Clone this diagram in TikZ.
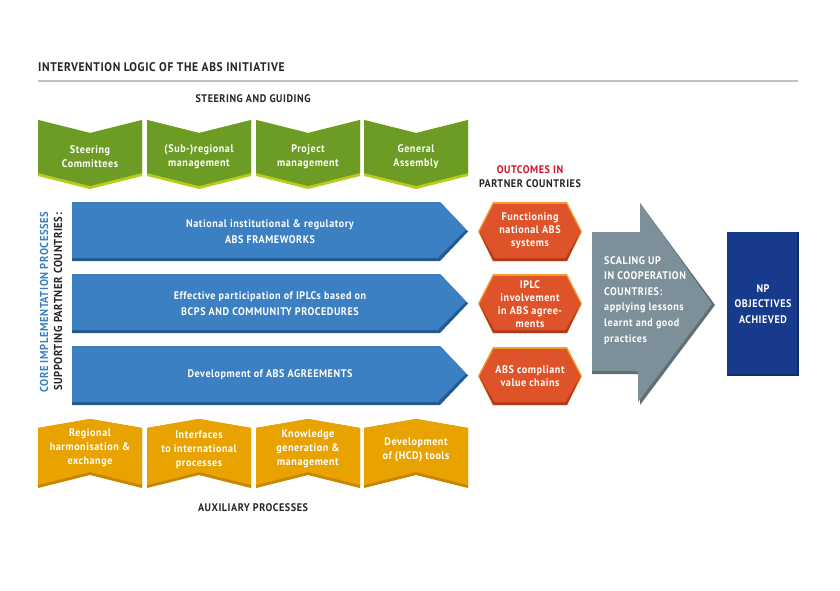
\documentclass[tikz,border=0pt]{standalone}
\usepackage{fontspec}
\setmainfont{PT Sans}[FakeStretch=0.92,LetterSpace=5]
\definecolor{absgreen}{HTML}{6C9C24}
\definecolor{absgreenedge}{HTML}{B9CC1C}
\definecolor{absyellow}{HTML}{E9A300}
\definecolor{absyellowedge}{HTML}{C68600}
\definecolor{absblue}{HTML}{3A80C2}
\definecolor{absblueedge}{HTML}{24598E}
\definecolor{absred}{HTML}{DF532A}
\definecolor{absrededge}{HTML}{B23C17}
\definecolor{absredtop}{HTML}{F29B2E}
\definecolor{absgray}{HTML}{7D8F99}
\definecolor{absgrayedge}{HTML}{5E6E77}
\definecolor{absnavy}{HTML}{183A8D}
\definecolor{absnavyedge}{HTML}{102A6A}
\definecolor{abstitle}{HTML}{D0122C}

\begin{document}
\begin{tikzpicture}[x=1pt,y=-1pt,
    boxtext/.style={text=white,align=center,inner sep=0pt,
      font=\bfseries\fontsize{11}{14}\selectfont},
    headtext/.style={text=black!85,inner sep=0pt,
      font=\bfseries\fontsize{11}{14}\selectfont}]
    \useasboundingbox (0,0) rectangle (840,591);
    \fill[white] (0,0) rectangle (840,591);
    % title
    \node[headtext,anchor=west,font=\bfseries\fontsize{12.5}{14}\selectfont] (title) at (38,67) {INTERVENTION LOGIC OF THE ABS INITIATIVE};
    \draw[black!25,line width=1.2pt] (38,81) -- (798,81);
    \node[headtext] (steering) at (253,99) {STEERING AND GUIDING};
    % steering and guiding
    \fill[absgreenedge] (38,120) -- (90,133) -- (142,120) -- (142,176) -- (90,189) -- (38,176) -- cycle;
    \fill[absgreen] (38,120) -- (90,133) -- (142,120) -- (142,173) -- (90,186) -- (38,173) -- cycle;
    \fill[absgreenedge] (147,120) -- (199,133) -- (251,120) -- (251,176) -- (199,189) -- (147,176) -- cycle;
    \fill[absgreen] (147,120) -- (199,133) -- (251,120) -- (251,173) -- (199,186) -- (147,173) -- cycle;
    \fill[absgreenedge] (256,120) -- (308,133) -- (360,120) -- (360,176) -- (308,189) -- (256,176) -- cycle;
    \fill[absgreen] (256,120) -- (308,133) -- (360,120) -- (360,173) -- (308,186) -- (256,173) -- cycle;
    \fill[absgreenedge] (364,120) -- (416,133) -- (468,120) -- (468,176) -- (416,189) -- (364,176) -- cycle;
    \fill[absgreen] (364,120) -- (416,133) -- (468,120) -- (468,173) -- (416,186) -- (364,173) -- cycle;
    \node[boxtext] (committees) at (90,157) {Steering\\Committees};
    \node[boxtext] (regional) at (199,157) {(Sub-)regional\\management};
    \node[boxtext] (project) at (308,157) {Project\\management};
    \node[boxtext] (assembly) at (416,157) {General\\Assembly};
    % outcomes heading
    \node[headtext,text=abstitle] (outcomes) at (530,170) {OUTCOMES IN};
    \node[headtext] (partner) at (530,184) {PARTNER COUNTRIES};
    % side labels
    \node[headtext,text=absblue,rotate=90,font=\bfseries\fontsize{11.5}{14}\selectfont] (core) at (44,302) {CORE IMPLEMENTATION PROCESSES};
    \node[headtext,rotate=90,font=\bfseries\fontsize{11.5}{14}\selectfont] (supporting) at (58,302) {SUPPORTING PARTNER COUNTRIES:};
    % core implementation arrows
    \fill[absblueedge] (72,202) -- (440,202) -- (468,231.5) -- (440,261) -- (72,261) -- cycle;
    \fill[absblue] (72,202) -- (440,202) -- (466,229.5) -- (438,258) -- (72,258) -- cycle;
    \fill[absblueedge] (72,274) -- (440,274) -- (468,303.5) -- (440,333) -- (72,333) -- cycle;
    \fill[absblue] (72,274) -- (440,274) -- (466,301.5) -- (438,330) -- (72,330) -- cycle;
    \fill[absblueedge] (72,346) -- (440,346) -- (468,375.5) -- (440,405) -- (72,405) -- cycle;
    \fill[absblue] (72,346) -- (440,346) -- (466,373.5) -- (438,402) -- (72,402) -- cycle;
    \node[boxtext,font=\bfseries\fontsize{11}{16}\selectfont] (frameworks) at (270,232) {National institutional \& regulatory\\ABS FRAMEWORKS};
    \node[boxtext,font=\bfseries\fontsize{11}{16}\selectfont] (participation) at (270,304) {Effective participation of IPLCs based on\\BCPS AND COMMUNITY PROCEDURES};
    \node[boxtext] (agreements) at (270,375) {Development of ABS AGREEMENTS};
    % outcomes
    \fill[absredtop] (478,231.5) -- (493,202) -- (567,202) -- (582,231.5) -- (567,261) -- (493,261) -- cycle;
    \fill[absrededge] (479.5,232.5) -- (494,204) -- (566,204) -- (580.5,232.5) -- (567,261) -- (493,261) -- cycle;
    \fill[absred] (479.5,231.5) -- (494,204) -- (566,204) -- (580.5,231.5) -- (565.5,258) -- (494.5,258) -- cycle;
    \fill[absredtop] (478,303.5) -- (493,274) -- (567,274) -- (582,303.5) -- (567,333) -- (493,333) -- cycle;
    \fill[absrededge] (479.5,304.5) -- (494,276) -- (566,276) -- (580.5,304.5) -- (567,333) -- (493,333) -- cycle;
    \fill[absred] (479.5,303.5) -- (494,276) -- (566,276) -- (580.5,303.5) -- (565.5,330) -- (494.5,330) -- cycle;
    \fill[absredtop] (478,376) -- (493,347) -- (567,347) -- (582,376) -- (567,405) -- (493,405) -- cycle;
    \fill[absrededge] (479.5,377) -- (494,349) -- (566,349) -- (580.5,377) -- (567,405) -- (493,405) -- cycle;
    \fill[absred] (479.5,376) -- (494,349) -- (566,349) -- (580.5,376) -- (565.5,402) -- (494.5,402) -- cycle;
    \node[boxtext,font=\bfseries\fontsize{11}{13}\selectfont] (systems) at (530,231) {Functioning\\national ABS\\systems};
    \node[boxtext,font=\bfseries\fontsize{11}{13}\selectfont] (involvement) at (530,304) {IPLC\\involvement\\in ABS agree-\\ments};
    \node[boxtext,font=\bfseries\fontsize{11}{13}\selectfont] (chains) at (530,376) {ABS compliant\\value chains};
    % scaling up
    \fill[absgrayedge] (592,232) -- (640,232) -- (640,203) -- (715,305) -- (640,405) -- (640,374) -- (592,374) -- cycle;
    \fill[absgray] (592,232) -- (640,232) -- (640,203) -- (712,304) -- (638,402) -- (638,371) -- (592,371) -- cycle;
    \node[boxtext,align=left,anchor=north west,font=\bfseries\fontsize{11}{15.6}\selectfont] (scaling) at (604,256) {SCALING UP\\IN COOPERATION\\COUNTRIES:\\applying lessons\\learnt and good\\practices};
    % objectives
    \fill[absnavyedge] (727,232) rectangle (799,376);
    \fill[absnavy] (727,232) rectangle (797,374);
    \node[boxtext,font=\bfseries\fontsize{11}{15.5}\selectfont] (objectives) at (763,304) {NP\\OBJECTIVES\\ACHIEVED};
    % auxiliary processes
    \fill[absyellowedge] (38,428) -- (90,419) -- (142,428) -- (142,488) -- (90,475) -- (38,488) -- cycle;
    \fill[absyellow] (38,428) -- (90,419) -- (142,428) -- (142,485) -- (90,472) -- (38,485) -- cycle;
    \fill[absyellowedge] (147,428) -- (199,419) -- (251,428) -- (251,488) -- (199,475) -- (147,488) -- cycle;
    \fill[absyellow] (147,428) -- (199,419) -- (251,428) -- (251,485) -- (199,472) -- (147,485) -- cycle;
    \fill[absyellowedge] (256,428) -- (308,419) -- (360,428) -- (360,488) -- (308,475) -- (256,488) -- cycle;
    \fill[absyellow] (256,428) -- (308,419) -- (360,428) -- (360,485) -- (308,472) -- (256,485) -- cycle;
    \fill[absyellowedge] (364,428) -- (416,419) -- (468,428) -- (468,488) -- (416,475) -- (364,488) -- cycle;
    \fill[absyellow] (364,428) -- (416,419) -- (468,428) -- (468,485) -- (416,472) -- (364,485) -- cycle;
    \node[boxtext] (harmonisation) at (90,448) {Regional\\harmonisation \&\\exchange};
    \node[boxtext] (interfaces) at (199,450) {Interfaces\\to international\\processes};
    \node[boxtext] (knowledge) at (308,449) {Knowledge\\generation \&\\management};
    \node[boxtext] (tools) at (416,450) {Development\\of (HCD) tools};
    \node[headtext] (auxiliary) at (253,508) {AUXILIARY PROCESSES};
\end{tikzpicture}
\end{document}
